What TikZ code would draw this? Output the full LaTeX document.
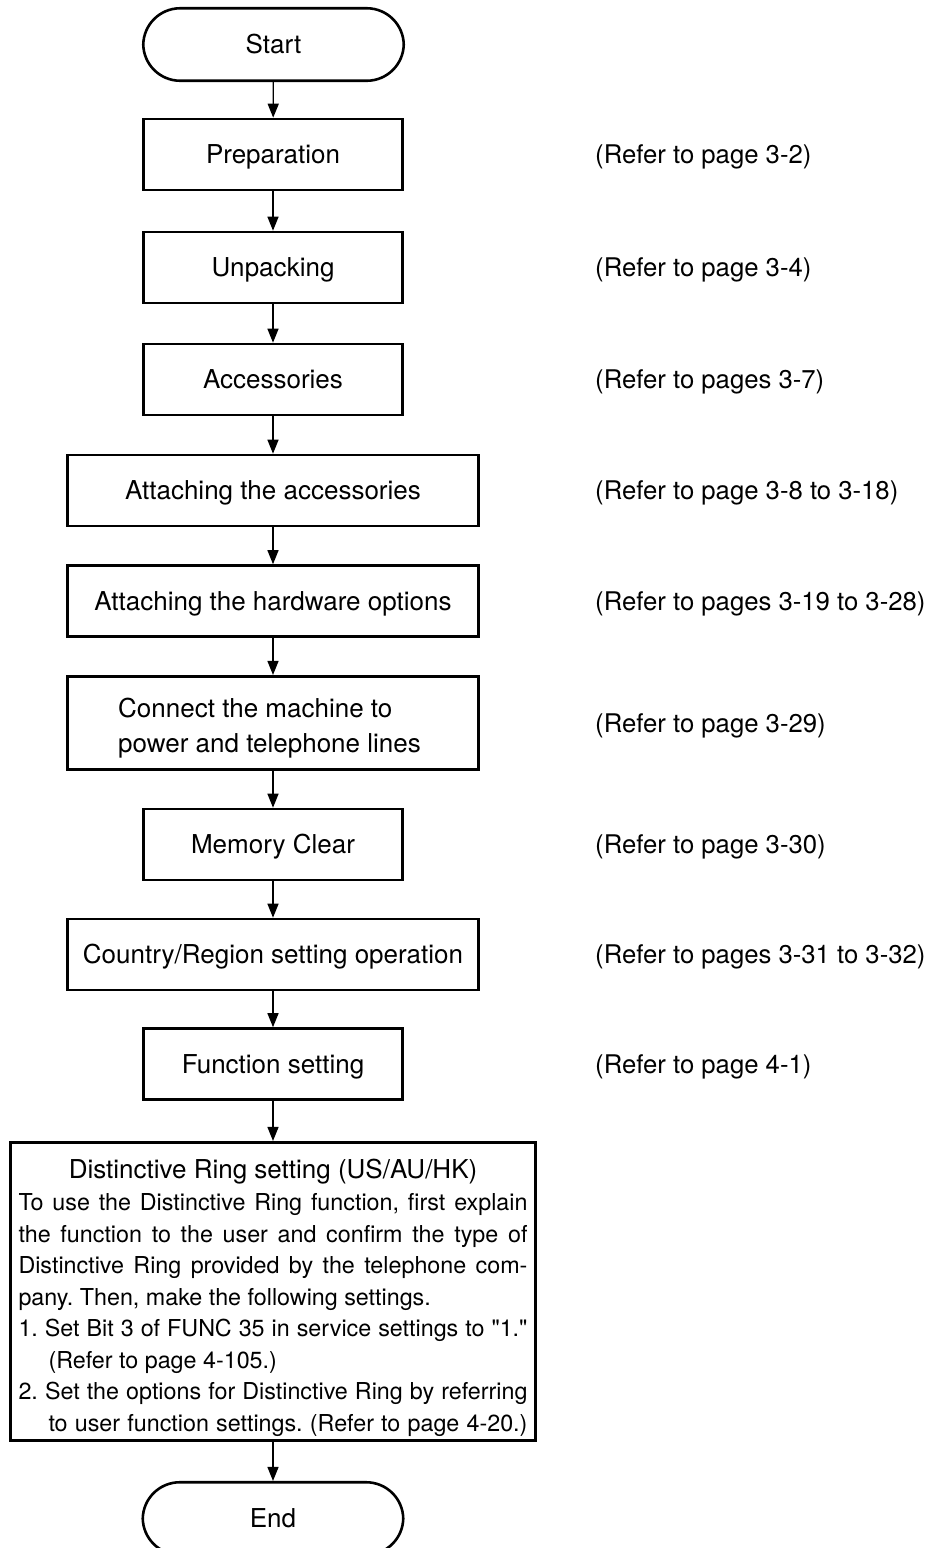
\documentclass[tikz,border=0pt]{standalone}
\usepackage{fontspec}
\setmainfont{TeX Gyre Heros}[Ligatures=TeXOff]
\usetikzlibrary{arrows.meta}
\newcommand\lblfont{\fontsize{26}{35}\selectfont}
\newcommand\reffont{\fontsize{25.7}{35}\selectfont}
\newcommand\bodyfont{\fontsize{23.3}{31.5}\selectfont}
\frenchspacing
\begin{document}
\begin{tikzpicture}[x=1pt,y=-1pt,
  box/.style={draw, line width=2.6pt, inner sep=0pt, font=\lblfont, align=center},
  one/.style={text height=18.7pt, text depth=0pt},
  narrow/.style={box, one, minimum width=259.5pt, minimum height=71pt},
  wide/.style={box, one, minimum width=411.5pt, minimum height=71pt},
  term/.style={box, one, minimum width=260.5pt, minimum height=72.5pt, rounded corners=37pt},
  arr/.style={line width=1.3pt, -{Triangle[length=14pt,width=11pt]}},
  ref/.style={anchor=west, inner sep=0pt, font=\reffont, text height=18.5pt, text depth=0pt}]
\useasboundingbox (0,0) rectangle (930,1548);

\node[term] (start) at (273.5,44.5) {Start};
\node[narrow] (prep) at (273,154.5) {Preparation};
\node[narrow] (unpack) at (273,267.5) {Unpacking};
\node[narrow] (acc) at (273,379.5) {Accessories};
\node[wide] (attach) at (273,490.5) {Attaching the accessories};
\node[wide] (hw) at (273,601) {Attaching the hardware options};
\node[box, minimum width=411.5pt, minimum height=93.5pt] (conn) at (273,723) {\raisebox{-11.5pt}[0pt][0pt]{\begin{tabular}{@{}l@{}}Connect the machine to\\power and telephone lines\end{tabular}}\hspace*{7pt}};
\node[narrow] (mem) at (273,844.5) {Memory Clear};
\node[wide] (country) at (273,954.5) {Country/Region setting operation};
\node[narrow] (func) at (273,1064) {Function setting};
\node[box, minimum width=525.5pt, minimum height=298.5pt] (dist) at (273,1291.5) {%
\begin{minipage}{509pt}\bodyfont
\vspace*{12pt}%
\makebox[509pt]{\lblfont Distinctive Ring setting (US/AU/HK)}\\[1pt]
\makebox[509pt][s]{To use the Distinctive Ring function, first explain}\\
\makebox[509pt][s]{the function to the user and confirm the type of}\\
\makebox[509pt][s]{Distinctive Ring provided by the telephone com-}\\
pany. Then, make the following settings.\\
\makebox[509pt][s]{1. Set Bit 3 of FUNC 35 in service settings to "1."}\\
\hspace*{30pt}(Refer to page 4-105.)\\
\makebox[509pt][s]{2. Set the options for Distinctive Ring by referring}\\
\hspace*{30pt}\makebox[479pt][s]{to user function settings. (Refer to page 4-20.)}
\end{minipage}};
\node[term] (end) at (273,1518.5) {End};

\draw[arr] (start) -- (prep);
\draw[arr] (prep) -- (unpack);
\draw[arr] (unpack) -- (acc);
\draw[arr] (acc) -- (attach);
\draw[arr] (attach) -- (hw);
\draw[arr] (hw) -- (conn);
\draw[arr] (conn) -- (mem);
\draw[arr] (mem) -- (country);
\draw[arr] (country) -- (func);
\draw[arr] (func) -- (dist);
\draw[arr] (dist) -- (end);

\node[ref] (r1) at (595,154.5) {(Refer to page 3-2)};
\node[ref] (r2) at (595,267.5) {(Refer to page 3-4)};
\node[ref] (r3) at (595,379.5) {(Refer to pages 3-7)};
\node[ref] (r4) at (595,490.5) {(Refer to page 3-8 to 3-18)};
\node[ref] (r5) at (595,601) {(Refer to pages 3-19 to 3-28)};
\node[ref] (r6) at (595,723) {(Refer to page 3-29)};
\node[ref] (r7) at (595,844.5) {(Refer to page 3-30)};
\node[ref] (r8) at (595,954.5) {(Refer to pages 3-31 to 3-32)};
\node[ref] (r9) at (595,1064) {(Refer to page 4-1)};
\end{tikzpicture}
\end{document}
